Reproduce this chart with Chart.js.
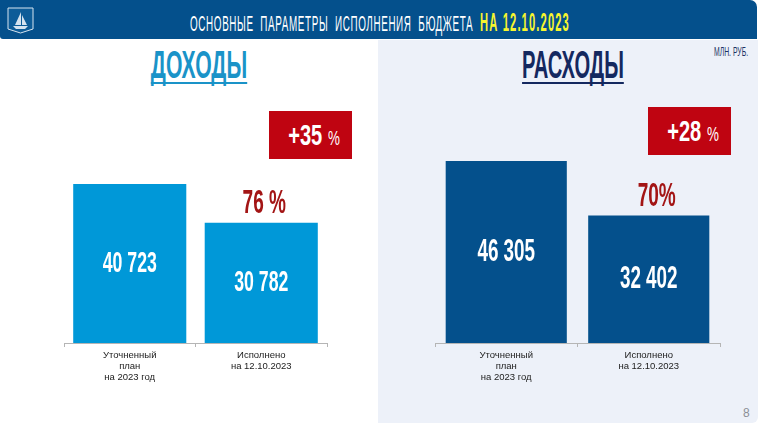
<!DOCTYPE html>
<html lang="ru">
<head>
<meta charset="utf-8">
<title>Основные параметры исполнения бюджета</title>
<script src="https://cdn.jsdelivr.net/npm/chart.js@4/dist/chart.umd.min.js"></script>
<style>
    html, body { margin: 0; padding: 0; background: #fff; overflow: hidden; }
    #page { position: relative; width: 760px; height: 423px; overflow: hidden; font-family: "Liberation Sans", sans-serif; }
    #panel { position: absolute; left: 378px; top: 40px; width: 380px; height: 383px; background: #edf1f9; border-radius: 0 0 6px 0; }
    #header { position: absolute; left: 0; top: 0; width: 757px; height: 39px; background: #04508c; border-radius: 0 0 0 3px; border-top-right-radius: 7px; }
    .squeeze { position: absolute; white-space: pre; font-weight: bold; transform: translateX(-50%) scaleX(var(--sx)); }
    #headText { --sx: 0.448; left: 380px; top: 10px; font-size: 22px; line-height: 24px; color: #fff; letter-spacing: 1.4px; font-weight: normal; }
    #headText b { color: #f6f52e; font-weight: bold; font-size: 25px; letter-spacing: 2.5px; }
    .section { --sx: 0.557; font-size: 38px; line-height: 40px; height: 37px; border-bottom: 2px solid currentColor; }
    #income { left: 199px; top: 45px; color: #1a93c8; }
    #spend { --sx: 0.53; left: 573px; top: 45px; color: #14285f; }
    #units { --sx: 0.57; left: 731px; top: 45px; font-size: 12px; line-height: 14px; color: #1c3264; font-weight: normal; }
    .badge { position: absolute; width: 83px; height: 48px; background: #bf0411; }
    .badge .squeeze { --sx: 0.67; left: 45px; top: 0; color: #fff; font-size: 30px; line-height: 48px; }
    .badge span span { font-size: 20px; font-weight: normal; }
    #badgeLeft { left: 269px; top: 111px; }
    #badgeRight { left: 648px; top: 107px; }
    #pageNum { position: absolute; left: 743px; top: 406px; font: 12px "Liberation Sans", sans-serif; color: #8b8f96; }
    #logo { position: absolute; left: 7px; top: 7px; }
    .box { position: absolute; top: 120px; height: 290px; }
    #boxLeft { left: 54px; width: 283px; }
    #boxRight { left: 425px; width: 305px; }
</style>
</head>
<body>
<div id="page">
    <div id="panel"></div>
    <div id="header"></div>
    <svg id="logo" width="27" height="27" viewBox="0 0 27 27">
        <path d="M1 1H26V22L13.5 26L1 22Z" fill="#0d5c98" stroke="#d5e3ef" stroke-width="1"/>
        <path d="M6 19L21 19L18 22H9Z M14 5L14 18L8 18Z M15 8L20 18L15 18Z" fill="#d5e3ef"/>
    </svg>
    <div id="headText" class="squeeze">ОСНОВНЫЕ  ПАРАМЕТРЫ  ИСПОЛНЕНИЯ  БЮДЖЕТА  <b>НА 12.10.2023</b></div>
    <div id="income" class="squeeze section">ДОХОДЫ</div>
    <div id="spend" class="squeeze section">РАСХОДЫ</div>
    <div id="units" class="squeeze">МЛН. РУБ.</div>
    <div id="badgeLeft" class="badge"><span class="squeeze">+35 <span>%</span></span></div>
    <div id="badgeRight" class="badge"><span class="squeeze">+28 <span>%</span></span></div>
    <div id="boxLeft" class="box"><canvas id="chartLeft"></canvas></div>
    <div id="boxRight" class="box"><canvas id="chartRight"></canvas></div>
    <div id="pageNum">8</div>
</div>
<script>
    const categories = [['Уточненный', 'план', 'на 2023 год'], ['Исполнено', 'на 12.10.2023']]
    const incomeValues = [40723, 30782]
    const spendValues = [46305, 32402]
    const incomeShares = ['', '76 %']
    const spendShares = ['', '70%']

    // narrow text: no condensed font here, so the canvas is squeezed around the text
    const squeezedText = (ctx, text, x, y, font, color, squeeze) => {
        ctx.save()
        ctx.translate(x, y)
        ctx.scale(squeeze, 1)
        ctx.textAlign = 'center'
        ctx.textBaseline = 'middle'
        ctx.fillStyle = color
        ctx.font = font
        ctx.fillText(text, 0, 0)
        ctx.restore()
    }

    // values inside the bars and the share above the second bar
    const barText = {
        id: 'barText',
        afterDatasetsDraw(chart, args, opts) {
            const ctx = chart.ctx
            chart.getDatasetMeta(0).data.forEach((bar, i) => {
                const mid = (bar.y + bar.base) / 2
                squeezedText(ctx, opts.numbers[i], bar.x, mid, `bold ${ opts.size }px "Liberation Sans"`, '#fff', 0.59)
                if (opts.shares[i]) {
                    squeezedText(ctx, opts.shares[i], bar.x + opts.shift, bar.y - 19, 'bold 34px "Liberation Sans"', '#a31515', 0.56)
                }
            })
        }
    }

    const formatValue = value => String(value).replace(/(\d)(?=\d{3}$)/, '$1 ')

    const makeChart = (id, values, shares, color, yMax, barShare, shift, size) => new Chart(document.getElementById(id), {
        type: 'bar',
        data: {
            labels: categories,
            datasets: [{ data: values, backgroundColor: color, barPercentage: barShare, categoryPercentage: 1 }]
        },
        options: {
            responsive: true,
            maintainAspectRatio: false,
            animation: false,
            layout: { padding: { left: 10, right: 10, top: 0, bottom: 0 } },
            plugins: {
                legend: { display: false },
                tooltip: { enabled: false },
                barText: { numbers: values.map(formatValue), shares: shares, shift: shift, size: size }
            },
            scales: {
                x: {
                    afterFit: scale => { scale.height = 67 },
                    border: { color: '#b5b5b5' },
                    grid: { drawOnChartArea: false, color: '#b5b5b5', tickLength: 4 },
                    ticks: {
                        color: '#222',
                        maxRotation: 0,
                        padding: 3,
                        font: { family: '"Liberation Sans"', size: 9.5, lineHeight: 1.16 }
                    }
                },
                y: { display: false, min: 0, max: yMax }
            }
        },
        plugins: [barText]
    })

    makeChart('chartLeft', incomeValues, incomeShares, '#0098d8', 57100, 0.86, 3, 30)
    makeChart('chartRight', spendValues, spendShares, '#04508c', 56700, 0.85, 8, 32)
</script>
</body>
</html>
